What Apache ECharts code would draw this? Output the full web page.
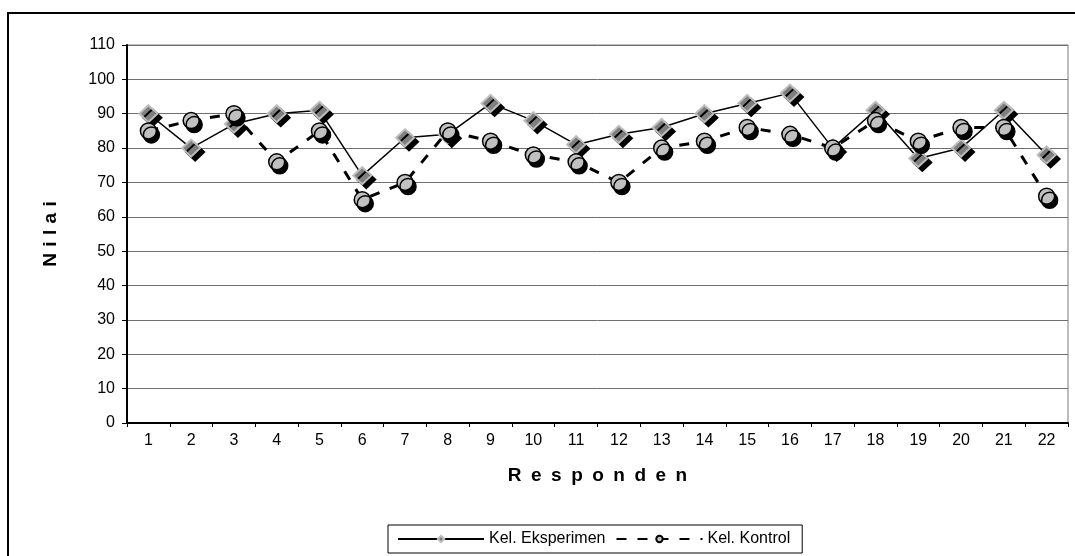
<!DOCTYPE html>
<html>
<head>
<meta charset="utf-8">
<script src="https://cdn.jsdelivr.net/npm/echarts@6/dist/echarts.min.js"></script>
<style>
  html, body { margin: 0; padding: 0; background: #fff; }
  #chart { width: 1075px; height: 556px; }
</style>
</head>
<body>
<div id="chart"></div>
<script>
// Respondent numbers along the x axis
const categories = ['1','2','3','4','5','6','7','8','9','10','11','12','13','14','15','16','17','18','19','20','21','22'];
// Scores of the experiment group
const eksperimen = [90, 80, 87, 90, 91, 72, 83, 84, 93, 88, 81, 84, 86, 90, 93, 96, 80, 91, 77, 80, 91, 78];
// Scores of the control group
const kontrol = [85, 88, 90, 76, 85, 65, 70, 85, 82, 78, 76, 70, 80, 82, 86, 84, 80, 88, 82, 86, 86, 66];
// Series names shown in the legend
const seriesNames = ['Kel. Eksperimen', 'Kel. Kontrol'];
// Axis titles, letter-spaced with wide spaces
const yTitle = 'N\u2004i\u2004l\u2004a\u2004i';
const xTitle = 'R\u2002e\u2002s\u2002p\u2002o\u2002n\u2002d\u2002e\u2002n';

const FONT = 'Liberation Sans, Arial, sans-serif';
const chart = echarts.init(document.getElementById('chart'), null, { renderer: 'canvas' });

chart.setOption({
  animation: false,
  backgroundColor: '#fff',
  textStyle: { fontFamily: FONT, color: '#000' },
  graphic: [{
    type: 'rect',
    shape: { x: 8, y: 13, width: 1100, height: 600 },
    style: { fill: 'none', stroke: '#000', lineWidth: 2 },
    silent: true
  }],
  grid: {
    left: 127, right: 7, top: 45, bottom: 133,
    show: true, borderColor: '#7a7a7a', borderWidth: 1, backgroundColor: 'transparent'
  },
  legend: {
    left: 388, top: 525,
    padding: [6, 12, 6, 9],
    borderColor: '#000', borderWidth: 1,
    itemWidth: 86, itemHeight: 8, itemGap: 10,
    textStyle: { fontFamily: FONT, fontSize: 16, color: '#000' },
    itemStyle: { shadowBlur: 0, shadowOffsetX: 0, shadowOffsetY: 0, shadowColor: 'rgba(0,0,0,0)' },
    data: seriesNames
  },
  xAxis: {
    type: 'category',
    data: categories,
    boundaryGap: true,
    name: xTitle,
    nameLocation: 'middle',
    nameGap: 43,
    nameTextStyle: { fontFamily: FONT, fontSize: 19, fontWeight: 'bold', color: '#000' },
    axisLine: { lineStyle: { color: '#000', width: 2 } },
    axisTick: { show: true, alignWithLabel: false, length: 4, lineStyle: { color: '#000', width: 1 } },
    axisLabel: { fontFamily: FONT, fontSize: 16, color: '#000', margin: 10, interval: 0 },
    splitLine: { show: false }
  },
  yAxis: {
    type: 'value',
    min: 0, max: 110, interval: 10,
    name: yTitle,
    nameLocation: 'middle',
    nameGap: 67,
    nameTextStyle: { fontFamily: FONT, fontSize: 19, fontWeight: 'bold', color: '#000' },
    axisLine: { show: true, lineStyle: { color: '#000', width: 2 } },
    axisTick: { show: true, length: 5, lineStyle: { color: '#000', width: 1 } },
    axisLabel: { fontFamily: FONT, fontSize: 16, color: '#000', margin: 12 },
    splitLine: { show: true, lineStyle: { color: '#6e6e6e', width: 1 } }
  },
  series: [
    {
      name: seriesNames[0],
      type: 'line',
      data: eksperimen,
      symbol: 'diamond',
      symbolSize: [18, 17],
      lineStyle: { color: '#000', width: 1.5, type: 'solid' },
      itemStyle: {
        color: '#7f7f7f', borderColor: '#bdbdbd', borderWidth: 2,
        shadowColor: '#000', shadowBlur: 0, shadowOffsetX: 4, shadowOffsetY: 4
      },
      z: 2
    },
    {
      name: seriesNames[1],
      type: 'line',
      data: kontrol,
      symbol: 'circle',
      symbolSize: 16,
      lineStyle: { color: '#000', width: 3, type: [10, 11] },
      itemStyle: {
        color: '#c0c0c0', borderColor: '#000', borderWidth: 1.5,
        shadowColor: '#000', shadowBlur: 0, shadowOffsetX: 3, shadowOffsetY: 4
      },
      z: 3
    }
  ]
});
</script>
</body>
</html>
